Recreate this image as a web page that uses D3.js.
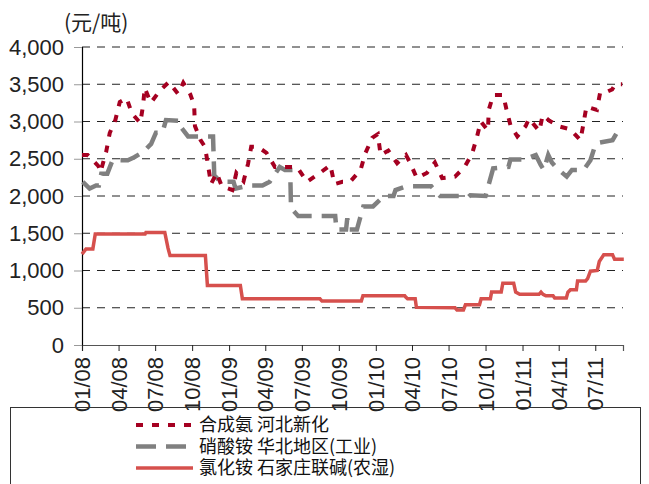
<!DOCTYPE html>
<html>
<head>
<meta charset="utf-8">
<script src="https://cdn.jsdelivr.net/npm/d3@7"></script>
<style>
  body { margin: 0; background: #fff; }
  .num { font-family: "Liberation Sans Narrow", "Arial Narrow", "Liberation Sans", sans-serif; }
  .cjk { font-family: "Noto Sans CJK SC", sans-serif; }
</style>
</head>
<body>
<script>
// 合成氨 河北新化
var ammoniaDates = ["2008-01-01","2008-01-15","2008-02-11","2008-02-16","2008-03-01","2008-03-10","2008-03-24",
    "2008-04-04","2008-04-21","2008-05-04","2008-05-25","2008-06-01","2008-06-05","2008-06-20","2008-07-12",
    "2008-08-04","2008-08-27","2008-09-09","2008-09-26","2008-10-06","2008-10-08","2008-10-22","2008-11-02",
    "2008-11-10","2008-11-17","2008-12-01","2008-12-14","2009-01-09","2009-01-19","2009-02-06","2009-02-17",
    "2009-02-25","2009-03-13","2009-04-04","2009-04-25","2009-05-22","2009-06-19","2009-06-24","2009-07-14",
    "2009-08-15","2009-09-10","2009-09-20","2009-10-10","2009-10-29","2009-11-24","2009-12-06","2009-12-23",
    "2010-01-06","2010-01-13","2010-02-01","2010-02-23","2010-03-17","2010-03-27","2010-04-13","2010-05-08",
    "2010-05-28","2010-06-15","2010-07-17","2010-08-10","2010-08-29","2010-09-10","2010-09-19","2010-10-07",
    "2010-10-09","2010-10-20","2010-11-14","2010-11-22","2010-12-02","2010-12-19","2011-01-09","2011-01-17",
    "2011-02-12","2011-02-20","2011-03-09","2011-04-05","2011-04-30","2011-05-25","2011-06-01","2011-06-09",
    "2011-07-05","2011-07-13","2011-07-23","2011-08-12","2011-08-20","2011-09-06"];
var ammoniaValues = [2550,2550,2400,2320,2590,2845,3020,
    3260,3315,3110,2980,3220,3450,3250,3410,
    3530,3370,3520,3370,3220,2940,2750,2660,
    2400,2160,2310,2130,2080,2310,2200,2430,
    2660,2660,2580,2390,2390,2390,2350,2190,
    2310,2415,2160,2190,2190,2350,2575,2780,
    2830,2550,2610,2440,2550,2450,2240,2310,
    2450,2240,2260,2390,2575,2800,3000,2880,
    3155,3355,3355,3165,2950,2800,2940,3040,
    2870,3085,3010,2930,2895,2750,2950,3200,
    3155,3385,3380,3430,3500,3500];

// 硝酸铵 华北地区(工业)
var nitrateDates = ["2008-01-03","2008-01-20","2008-02-05","2008-02-12","2008-02-18","2008-03-04","2008-03-17",
    "2008-04-24","2008-05-10","2008-06-01","2008-06-21","2008-07-03","2008-07-19","2008-07-28","2008-09-01",
    "2008-09-05","2008-09-21","2008-11-22","2008-11-25","2008-12-10","2009-01-12","2009-01-17","2009-02-18",
    "2009-03-25","2009-04-12","2009-05-07","2009-05-20","2009-06-02","2009-06-04","2009-06-22","2009-09-22",
    "2009-09-25","2009-10-19","2009-10-22","2009-10-26","2009-11-15","2009-12-01","2009-12-25","2010-01-21",
    "2010-02-14","2010-02-19","2010-03-18","2010-05-19","2010-06-05","2010-06-10","2010-07-29","2010-08-20",
    "2010-08-24","2010-10-01","2010-10-20","2010-11-27","2010-12-02","2011-01-04","2011-02-03","2011-02-15",
    "2011-02-23","2011-03-06","2011-03-15","2011-03-28","2011-04-21","2011-05-04","2011-06-02","2011-06-19",
    "2011-07-01","2011-07-10","2011-08-13","2011-08-25","2011-09-06"];
var nitrateValues = [2190,2100,2140,2140,2300,2300,2480,
    2480,2520,2590,2700,2850,2850,3020,3010,
    2910,2800,2800,2280,2190,2190,2100,2140,
    2140,2190,2390,2350,2350,1840,1730,1730,
    1550,1550,1700,1550,1550,1860,1860,2000,
    2000,2080,2130,2130,2025,2000,2000,1990,
    2010,2000,2370,2390,2490,2490,2550,2420,
    2350,2550,2450,2370,2260,2350,2350,2480,
    2685,2715,2750,2860,2880];

// 氯化铵 石家庄联碱(农湿)
var chlorideDates = ["2008-01-01","2008-01-11","2008-01-28","2008-02-03","2008-06-06","2008-06-08","2008-07-25",
    "2008-08-02","2008-08-07","2008-11-03","2008-11-08","2009-01-29","2009-02-03","2009-08-15","2009-08-20",
    "2009-11-26","2009-11-30","2010-03-14","2010-03-17","2010-03-21","2010-04-09","2010-04-12","2010-07-17",
    "2010-07-22","2010-08-07","2010-08-12","2010-09-16","2010-09-20","2010-10-13","2010-10-16","2010-11-09",
    "2010-11-13","2010-12-10","2010-12-15","2010-12-25","2011-02-11","2011-02-16","2011-02-21","2011-02-28",
    "2011-03-18","2011-03-22","2011-04-20","2011-04-24","2011-04-30","2011-05-15","2011-05-18","2011-06-07",
    "2011-06-12","2011-06-19","2011-07-06","2011-07-11","2011-07-22","2011-08-13","2011-08-18","2011-09-10"];
var chlorideValues = [1220,1290,1290,1490,1490,1510,1510,
    1300,1200,1200,800,800,620,620,590,
    590,660,660,640,620,620,505,500,
    470,470,540,540,620,620,710,710,
    830,830,710,680,680,710,680,660,
    660,630,630,710,740,740,860,860,
    890,990,1000,1120,1210,1210,1150,1150];

var yTicks = [0,500,1000,1500,2000,2500,3000,3500,4000];
var xTickDates = ["2008-01-01","2008-04-01","2008-07-01","2008-10-01","2009-01-01","2009-04-01","2009-07-01",
    "2009-10-01","2010-01-01","2010-04-01","2010-07-01","2010-10-01","2011-01-01","2011-04-01","2011-07-01"];

var unitLabel = "(元/吨)";
var seriesNames = ["合成氨 河北新化","硝酸铵 华北地区(工业)","氯化铵 石家庄联碱(农湿)"];

function drawChart(){
    var parse = d3.timeParse("%Y-%m-%d");
    var svgEl = d3.select("body").append("svg")
        .attr("width",649)
        .attr("height",484);

    var x = d3.scaleTime()
        .domain([parse("2008-01-01"), parse("2011-09-08")])
        .range([82, 623]);
    var y = d3.scaleLinear()
        .domain([0, 4000])
        .range([345, 47]);

    // grid lines
    svgEl.append("g").selectAll("line")
        .data(yTicks.filter(function(d){ return d > 0; }))
        .join("line")
        .attr("x1", 82).attr("x2", 623)
        .attr("y1", function(d){ return y(d); })
        .attr("y2", function(d){ return y(d); })
        .attr("stroke","#222")
        .attr("stroke-width",1)
        .attr("stroke-dasharray","8,7");

    // y axis
    var yAxis = svgEl.append("g")
        .attr("transform","translate(82,0)")
        .call(d3.axisLeft(y).tickValues(yTicks).tickFormat(d3.format(",")).tickSize(8).tickPadding(10));
    yAxis.select(".domain").attr("stroke","#000").attr("stroke-width",1.2);
    yAxis.selectAll(".tick line").attr("stroke","#999");
    yAxis.selectAll("text")
        .attr("class","num")
        .attr("font-size",22)
        .attr("fill","#222");

    // x axis
    var xAxis = svgEl.append("g")
        .attr("transform","translate(0,345)")
        .call(d3.axisBottom(x).tickValues(xTickDates.map(parse)).tickFormat(d3.timeFormat("%m/%y")).tickSizeOuter(0).tickSize(6));
    xAxis.select(".domain").attr("stroke","#555").attr("stroke-width",1.2);
    xAxis.selectAll(".tick line").attr("stroke","#222");
    xAxis.selectAll("text")
        .attr("class","num")
        .attr("font-size",22)
        .attr("fill","#222")
        .attr("transform","rotate(-90)")
        .attr("text-anchor","end")
        .attr("x",-12)
        .attr("y",0)
        .attr("dy","0.35em");

    svgEl.append("text")
        .attr("class","cjk")
        .attr("x",64)
        .attr("y",30)
        .attr("font-size",21)
        .attr("fill","#222")
        .text(unitLabel);

    var line = d3.line()
        .x(function(d){ return x(d[0]); })
        .y(function(d){ return y(d[1]); });

    var series = [
        {dates: ammoniaDates, values: ammoniaValues, color: "#a50021", width: 4, dash: "7,9"},
        {dates: nitrateDates, values: nitrateValues, color: "#808080", width: 4.5, dash: "20,10"},
        {dates: chlorideDates, values: chlorideValues, color: "#d6504d", width: 3.5, dash: null}
    ];

    // draw the solid one first so dashes sit on top
    [2,1,0].forEach(function(i){
        var s = series[i];
        var pts = s.dates.map(function(d,k){ return [parse(d), s.values[k]]; });
        svgEl.append("path")
            .attr("d", line(pts))
            .attr("fill","none")
            .attr("stroke", s.color)
            .attr("stroke-width", s.width)
            .attr("stroke-dasharray", s.dash);
    });

    // legend
    svgEl.append("rect")
        .attr("x",10.5).attr("y",407.5)
        .attr("width",630).attr("height",90)
        .attr("fill","none")
        .attr("stroke","#333")
        .attr("stroke-width",1);

    var leg = svgEl.append("g").selectAll("g")
        .data(series)
        .join("g")
        .attr("transform", function(d,i){ return "translate(0," + (425 + i*21.5) + ")"; });
    leg.append("line")
        .attr("x1",136).attr("x2",193)
        .attr("y1",0).attr("y2",0)
        .attr("stroke", function(d){ return d.color; })
        .attr("stroke-width", function(d){ return d.width; })
        .attr("stroke-dasharray", function(d){ return d.dash; });
    leg.append("text")
        .attr("class","cjk")
        .attr("x",199)
        .attr("y",0)
        .attr("dy","0.36em")
        .attr("font-size",18)
        .attr("fill","#111")
        .text(function(d,i){ return seriesNames[i]; });
}

drawChart();
</script>
</body>
</html>
